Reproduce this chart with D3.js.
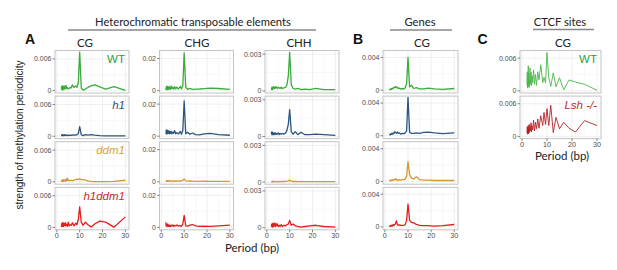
<!DOCTYPE html>
<html><head><meta charset="utf-8">
<script src="https://cdn.jsdelivr.net/npm/d3@7"></script>
<style>
html,body{margin:0;padding:0;background:#fff;}
svg{display:block;}
</style>
</head><body>
<svg id="chart" width="617" height="270"></svg>
<script>
// ---- DATA (values in units of 1e-3) ----
const periods = [2, 2.1, 2.2, 2.3, 2.4, 2.5, 2.6, 2.7, 2.8, 2.9, 3, 3.2, 3.4, 3.6, 3.8, 4, 4.3, 4.6, 5, 5.4, 5.8, 6.3, 6.8, 7.5, 8.3, 8.8, 9.4, 10, 10.7, 11.5, 12.5, 13.6, 15, 16.7, 18.8, 21.4, 25, 30];
const genotypes = ["WT", "h1", "ddm1", "h1ddm1"];
const ctcfGenotypes = ["WT", "Lsh -/-"];
const xTicks = [0, 10, 20, 30];

// Heterochromatic TEs, CG
const teCG_WT     = [0.3,0.8,0.2,0.6,0.1,0.9,0.3,0.5,0.2,0.7,0.4,0.9,0.3,0.6,0.4,1.0,0.4,0.6,0.3,0.4,0.6,0.5,1.1,0.6,0.9,0.6,1.5,7.3,0.5,0.1,0.3,0.6,0.9,1.1,0.7,0.3,0.75,0.05];
const teCG_h1     = [0.2,0.1,0.3,0.1,0.25,0.1,0.3,0.15,0.2,0.1,0.25,0.15,0.3,0.1,0.2,0.15,0.25,0.1,0.2,0.15,0.2,0.15,0.25,0.2,0.2,0.3,0.5,1.8,0.3,0.1,0.3,0.2,0.3,0.2,0.1,0.05,0.05,0.05];
const teCG_ddm1   = [0.1,0.3,0.1,0.2,0.05,0.3,0.1,0.2,0.1,0.4,0.1,0.3,0.2,0.4,0.1,0.5,0.2,0.7,0.2,0.3,0.2,0.3,0.2,0.3,0.4,0.5,0.4,0.6,0.4,0.4,0.3,0.2,0.1,0.05,0.05,0.05,0.1,0.3];
const teCG_h1ddm1 = [0.5,0.2,0.8,0.3,0.7,0.2,0.9,0.4,0.6,0.2,0.8,0.3,0.7,0.4,0.9,0.3,0.6,0.2,1.0,0.3,0.5,0.4,0.9,0.3,0.8,0.5,1.5,3.9,1.0,0.4,1.0,0.5,0.1,0.7,1.2,1.0,0.05,2.0];

// Heterochromatic TEs, CHG
const teCHG_WT     = [1.5,0.6,2.5,0.8,2.0,0.7,2.8,1.0,1.8,0.6,2.2,1.0,2.6,0.9,1.8,0.8,2.9,1.2,2.0,0.9,2.5,1.0,2.2,1.0,2.7,1.0,3.0,23.5,2.0,0.8,1.4,0.8,0.9,1.0,1.2,1.5,1.3,0.7];
const teCHG_h1     = [3.0,1.5,4.0,2.0,3.5,1.5,3.8,2.2,3.2,1.6,3.5,2.0,3.2,1.5,2.8,1.8,3.0,1.5,2.5,1.8,3.5,1.5,2.2,1.4,3.0,1.2,3.5,22.0,1.5,2.5,1.2,2.0,1.0,0.8,1.5,1.8,1.0,0.6];
const teCHG_ddm1   = [0.6,0.3,0.7,0.4,0.6,0.3,0.8,0.4,0.5,0.3,0.6,0.4,0.7,0.3,0.5,0.4,0.6,0.3,0.5,0.4,0.6,0.3,0.5,0.4,0.6,0.5,0.8,1.8,0.6,0.4,0.5,0.4,0.3,0.3,0.4,0.3,0.3,0.3];
const teCHG_h1ddm1 = [3.2,1.0,2.0,0.8,1.8,0.6,1.5,0.7,2.2,0.8,1.2,0.6,1.6,0.7,1.2,0.5,1.4,0.8,1.6,0.6,1.2,0.9,1.5,0.8,1.2,0.6,2.0,7.5,1.0,0.8,1.4,1.8,0.9,0.6,0.8,0.6,0.9,1.4];

// Heterochromatic TEs, CHH
const teCHH_WT     = [0.2,0.1,0.3,0.15,0.25,0.1,0.3,0.15,0.25,0.2,0.35,0.2,0.3,0.2,0.35,0.25,0.3,0.2,0.3,0.25,0.2,0.3,0.2,0.25,0.3,0.5,1.2,3.15,0.5,0.2,0.15,0.2,0.1,0.15,0.1,0.2,0.1,0.1];
const teCHH_h1     = [0.4,0.2,0.35,0.15,0.3,0.2,0.35,0.15,0.3,0.2,0.25,0.15,0.3,0.2,0.3,0.15,0.25,0.2,0.3,0.15,0.25,0.2,0.25,0.2,0.3,0.5,1.0,2.2,0.4,0.2,0.4,0.15,0.35,0.15,0.15,0.2,0.15,0.1];
const teCHH_ddm1   = [0.05,0.03,0.06,0.03,0.05,0.03,0.06,0.04,0.05,0.03,0.05,0.04,0.06,0.03,0.05,0.04,0.05,0.03,0.05,0.04,0.05,0.04,0.05,0.05,0.06,0.08,0.1,0.16,0.08,0.05,0.05,0.04,0.04,0.04,0.04,0.04,0.04,0.04];
const teCHH_h1ddm1 = [0.1,0.3,0.1,0.2,0.05,0.35,0.1,0.25,0.1,0.3,0.1,0.4,0.15,0.3,0.1,0.35,0.15,0.3,0.1,0.2,0.1,0.25,0.1,0.2,0.15,0.25,0.3,0.6,0.2,0.3,0.15,0.1,0.05,0.1,0.15,0.2,0.1,0.05];

// Genes, CG
const geneCG_WT     = [0.05,0.1,0.05,0.1,0.1,0.15,0.1,0.2,0.1,0.15,0.2,0.15,0.25,0.2,0.3,0.35,0.3,0.45,0.3,0.35,0.2,0.25,0.15,0.2,0.15,0.3,0.8,4.0,0.4,0.6,0.2,0.3,0.15,0.15,0.25,0.15,0.1,0.2];
const geneCG_h1     = [0.1,0.15,0.1,0.2,0.15,0.2,0.15,0.2,0.25,0.2,0.3,0.2,0.3,0.25,0.35,0.3,0.5,0.4,0.3,0.45,0.3,0.35,0.2,0.3,0.25,0.35,0.6,4.7,0.4,0.3,0.3,0.35,0.3,0.4,0.45,0.35,0.25,0.35];
const geneCG_ddm1   = [0.05,0.1,0.05,0.1,0.1,0.05,0.15,0.1,0.1,0.15,0.1,0.2,0.15,0.2,0.1,0.2,0.25,0.35,0.15,0.2,0.1,0.2,0.15,0.2,0.2,0.3,0.6,2.4,0.8,0.4,0.3,0.55,0.2,0.15,0.15,0.1,0.1,0.1];
const geneCG_h1ddm1 = [0.1,0.05,0.15,0.1,0.2,0.1,0.15,0.1,0.2,0.15,0.2,0.1,0.25,0.2,0.3,0.2,0.3,0.4,0.75,0.3,0.2,0.25,0.2,0.2,0.2,0.3,0.8,2.8,0.8,0.55,0.5,0.3,0.2,0.15,0.15,0.1,0.15,0.3];

// CTCF sites, CG
const ctcfCG_WT  = [1.0,3.5,0.5,2.5,0.8,4.6,1.0,3.2,0.6,2.0,0.8,4.2,1.2,3.5,0.9,2.8,1.5,3.8,1.2,3.0,1.0,3.5,2.0,4.8,1.5,2.5,1.5,7.0,2.5,0.8,3.3,0.7,2.4,0.2,2.0,1.6,1.2,0.1];
const ctcfCG_Lsh = [0.6,1.8,0.4,1.5,0.8,2.0,0.5,1.6,0.9,2.2,0.7,1.8,1.0,2.5,0.8,2.0,1.2,3.0,1.0,2.6,1.4,3.2,1.5,3.8,2.0,4.4,2.2,5.1,2.0,5.7,0.7,3.5,1.4,2.6,1.5,0.8,2.9,2.0];

// y tick values / labels per column
const yTicksCG = [0, 6],   yLabelsCG = ["0", "0.006"];
const yTicksCHG = [0, 20], yLabelsCHG = ["0", "0.02"];
const yTicksCHH = [0, 3],  yLabelsCHH = ["0", "0.003"];
const yTicksGene = [0, 4], yLabelsGene = ["0", "0.004"];
const yTicksCTCF = [0, 6], yLabelsCTCF = ["0", "0.006"];

// ---- LAYOUT / STYLE ----
const colors = {WT:"#3aac3a", h1:"#2b557f", ddm1:"#d6972e", h1ddm1:"#e0201e"};
const labelColors = {WT:"#2ea043", h1:"#2a4d80", ddm1:"#d9a43c", h1ddm1:"#c62a30"};
const ctcfColors = {"WT":"#4cb84c", "Lsh -/-":"#b52228"};
const ctcfLabelColors = {"WT":"#2ea043", "Lsh -/-":"#c0282d"};

const columns = [
  {left:55,    width:74, domain:[-0.45,7.6], ticks:yTicksCG, labels:yLabelsCG, series:[teCG_WT,teCG_h1,teCG_ddm1,teCG_h1ddm1], names:genotypes, showGeno:true},
  {left:159.5, width:74, domain:[-1.5,25],   ticks:yTicksCHG, labels:yLabelsCHG, series:[teCHG_WT,teCHG_h1,teCHG_ddm1,teCHG_h1ddm1], names:genotypes},
  {left:265,   width:74, domain:[-0.17,3.3], ticks:yTicksCHH, labels:yLabelsCHH, series:[teCHH_WT,teCHH_h1,teCHH_ddm1,teCHH_h1ddm1], names:genotypes},
  {left:383,   width:75, domain:[-0.35,4.85],ticks:yTicksGene, labels:yLabelsGene, series:[geneCG_WT,geneCG_h1,geneCG_ddm1,geneCG_h1ddm1], names:genotypes}
];
const ctcfCol = {left:520, width:81, domain:[-0.4,7.4], ticks:yTicksCTCF, labels:yLabelsCTCF, series:[ctcfCG_WT, ctcfCG_Lsh], names:ctcfGenotypes};

const rowTop0 = 50.5, rowStep = 45.6, rowH = 42.5;
const svg = d3.select("#chart");
const sansA = "'Liberation Sans', Arial, sans-serif";
const sansH = "Lato, 'Open Sans', sans-serif";

function drawPanel(col, r, values, name, color, lblColor, lwidth, italic, showX) {
  const top = rowTop0 + r*rowStep;
  const x = d3.scaleLinear().domain([-0.8, 31.6]).range([col.left, col.left+col.width]);
  const y = d3.scaleLinear().domain(col.domain).range([top+rowH, top]);
  const g = svg.append("g");
  g.append("rect").attr("x",col.left).attr("y",top).attr("width",col.width).attr("height",rowH).attr("fill","#fff");
  // minor grid
  [5,15,25].forEach(v=>g.append("line").attr("x1",x(v)).attr("x2",x(v)).attr("y1",top).attr("y2",top+rowH).attr("stroke","#f4f4f4").attr("stroke-width",0.6));
  const mid = (col.ticks[0]+col.ticks[1])/2;
  g.append("line").attr("x1",col.left).attr("x2",col.left+col.width).attr("y1",y(mid)).attr("y2",y(mid)).attr("stroke","#f4f4f4").attr("stroke-width",0.6);
  // major grid
  xTicks.forEach(v=>g.append("line").attr("x1",x(v)).attr("x2",x(v)).attr("y1",top).attr("y2",top+rowH).attr("stroke","#ebebeb").attr("stroke-width",0.8));
  col.ticks.forEach(v=>g.append("line").attr("x1",col.left).attr("x2",col.left+col.width).attr("y1",y(v)).attr("y2",y(v)).attr("stroke","#ebebeb").attr("stroke-width",0.8));
  // line
  const line = d3.line().x((d,i)=>x(periods[i])).y(d=>y(d));
  g.append("path").datum(values).attr("d",line).attr("fill","none").attr("stroke",color).attr("stroke-width",lwidth).attr("stroke-linejoin","round");
  g.append("rect").attr("x",col.left).attr("y",top).attr("width",col.width).attr("height",rowH)
    .attr("fill","none").attr("stroke","#c4c4c4").attr("stroke-width",1);
  // y axis ticks
  col.ticks.forEach((v,i)=>{
    g.append("line").attr("x1",col.left-2.5).attr("x2",col.left).attr("y1",y(v)).attr("y2",y(v)).attr("stroke","#555").attr("stroke-width",0.7);
    g.append("text").attr("x",col.left-3.5).attr("y",y(v)).attr("dy","0.35em").attr("text-anchor","end")
      .attr("font-family",sansA).attr("font-size",7).attr("fill","#4d4d4d").text(col.labels[i]);
  });
  if (showX) {
    xTicks.forEach(v=>{
      g.append("line").attr("x1",x(v)).attr("x2",x(v)).attr("y1",top+rowH).attr("y2",top+rowH+2.5).attr("stroke","#555").attr("stroke-width",0.7);
      g.append("text").attr("x",x(v)).attr("y",top+rowH+8.5).attr("text-anchor","middle")
        .attr("font-family",sansA).attr("font-size",7.2).attr("fill","#4d4d4d").text(v);
    });
  }
  if (name) {
    g.append("text").attr("x",col.left+col.width-4).attr("y",top+12.5).attr("text-anchor","end")
      .attr("font-family",sansA).attr("font-size",11.5).attr("font-style",italic?"italic":"normal")
      .attr("fill",lblColor).text(name);
  }
}

columns.forEach((col,ci)=>{
  col.series.forEach((vals,r)=>{
    const nm = col.names[r];
    drawPanel(col, r, vals, col.showGeno ? nm : null, colors[nm], labelColors[nm], 1.3, nm!=="WT", r===3);
  });
});
ctcfCol.series.forEach((vals,r)=>{
  const nm = ctcfCol.names[r];
  drawPanel(ctcfCol, r, vals, nm, ctcfColors[nm], ctcfLabelColors[nm], 0.9, nm!=="WT", r===1);
});

function txt(x,y,s,opts={}) {
  return svg.append("text").attr("x",x).attr("y",y).attr("text-anchor",opts.anchor||"middle")
    .attr("font-family",opts.family||sansH).attr("font-size",opts.size||11)
    .attr("font-weight",opts.weight||"normal").attr("fill",opts.fill||"#222").text(s);
}
// Column titles
txt(85, 47, "CG", {size:11.5});
txt(197, 47, "CHG", {size:11.5});
txt(299, 47, "CHH", {size:11.5});
txt(422, 47, "CG", {size:11.5});
txt(563, 47, "CG", {size:11.5});

// Group headers
txt(193, 26, "Heterochromatic transposable elements", {size:11.2});
svg.append("line").attr("x1",68).attr("x2",316).attr("y1",30).attr("y2",30).attr("stroke","#888").attr("stroke-width",1.6);
txt(420, 26, "Genes", {size:11.2});
svg.append("line").attr("x1",390).attr("x2",452).attr("y1",30).attr("y2",30).attr("stroke","#888").attr("stroke-width",1.6);
txt(560, 25.5, "CTCF sites", {size:11.2});
svg.append("line").attr("x1",533).attr("x2",594).attr("y1",29.5).attr("y2",29.5).attr("stroke","#888").attr("stroke-width",1.6);

// Panel letters
const letterOpts = {family:"'Liberation Sans', Arial, sans-serif", size:14, weight:"bold", fill:"#111"};
txt(30, 43.5, "A", letterOpts);
txt(358, 43.5, "B", letterOpts);
txt(482.5, 43.5, "C", letterOpts);

// Axis titles
txt(252, 252, "Period (bp)", {size:11.5});
txt(562, 159.5, "Period (bp)", {size:11.5});
svg.append("text").attr("transform","translate(23,135) rotate(-90)").attr("text-anchor","middle")
  .attr("font-family",sansA).attr("font-size",10).attr("fill","#222").text("strength of methylation periodicity");
</script>
</body></html>
